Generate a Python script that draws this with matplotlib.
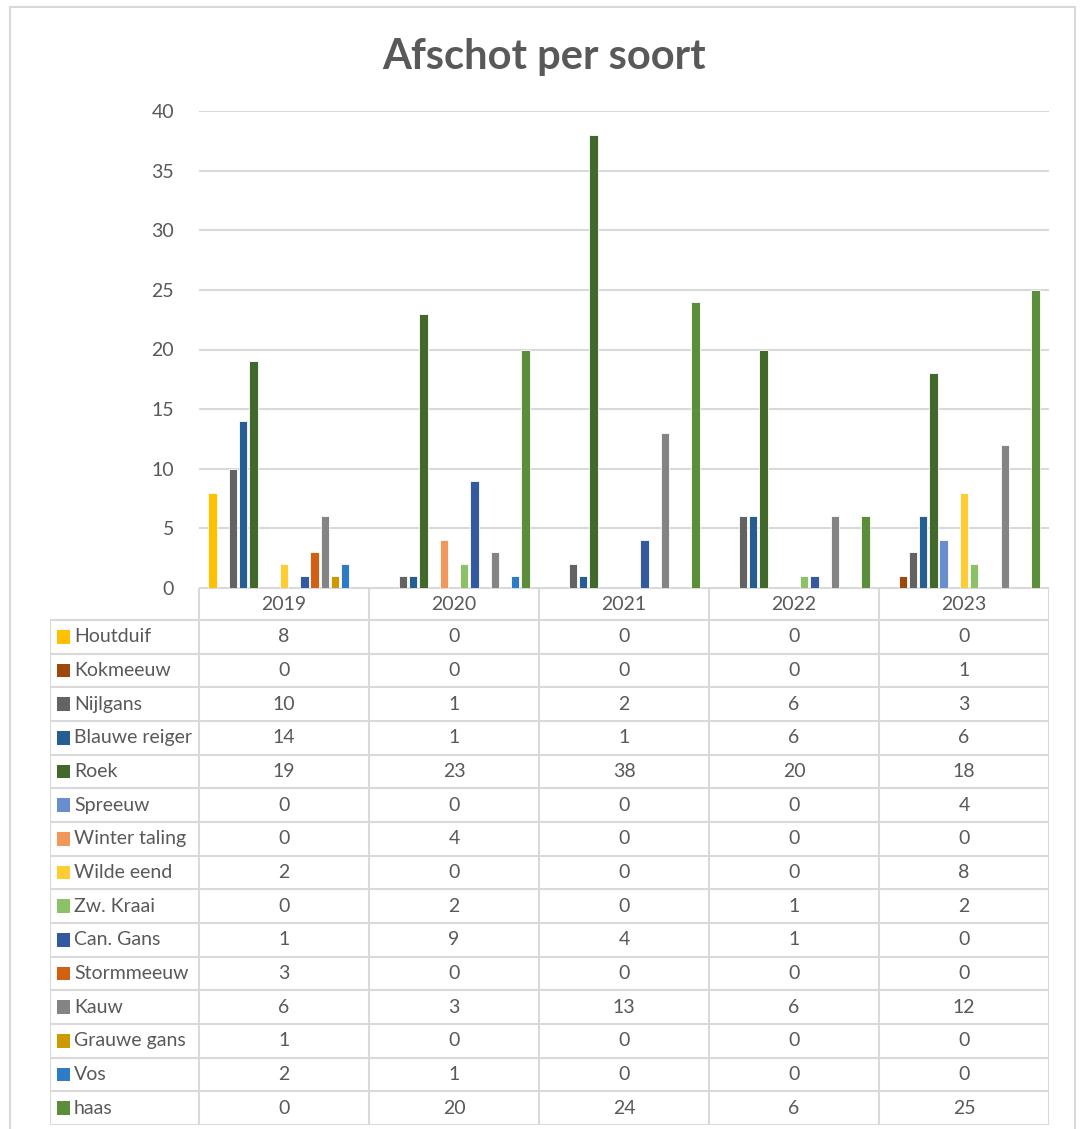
import numpy as np
import matplotlib.pyplot as plt
from matplotlib.patches import Rectangle

plt.rcParams['font.family'] = ['Lato', 'DejaVu Sans']

years = ['2019', '2020', '2021', '2022', '2023']
species = ['Houtduif', 'Kokmeeuw', 'Nijlgans', 'Blauwe reiger', 'Roek', 'Spreeuw',
           'Winter taling', 'Wilde eend', 'Zw. Kraai', 'Can. Gans', 'Stormmeeuw',
           'Kauw', 'Grauwe gans', 'Vos', 'haas']
houtduif = [8, 0, 0, 0, 0]
kokmeeuw = [0, 0, 0, 0, 1]
nijlgans = [10, 1, 2, 6, 3]
blauwe_reiger = [14, 1, 1, 6, 6]
roek = [19, 23, 38, 20, 18]
spreeuw = [0, 0, 0, 0, 4]
winter_taling = [0, 4, 0, 0, 0]
wilde_eend = [2, 0, 0, 0, 8]
zw_kraai = [0, 2, 0, 1, 2]
can_gans = [1, 9, 4, 1, 0]
stormmeeuw = [3, 0, 0, 0, 0]
kauw = [6, 3, 13, 6, 12]
grauwe_gans = [1, 0, 0, 0, 0]
vos = [2, 1, 0, 0, 0]
haas = [0, 20, 24, 6, 25]

values = [houtduif, kokmeeuw, nijlgans, blauwe_reiger, roek, spreeuw, winter_taling,
          wilde_eend, zw_kraai, can_gans, stormmeeuw, kauw, grauwe_gans, vos, haas]
colors = ['#FFC000', '#9E480E', '#636363', '#255E91', '#43682B', '#698ED0',
          '#F1975A', '#FFCD33', '#8CC168', '#335AA1', '#D26012', '#848484',
          '#CC9A00', '#2E7BC6', '#5B8E3B']

W, H = 1081, 1129
txt = '#595959'
grid = '#D9D9D9'

fig = plt.figure(figsize=(W / 100, H / 100), dpi=100)

# outer chart frame
fig.patches.append(Rectangle((10 / W, 1 - 1132 / H), 1065 / W, 1125 / H,
                             transform=fig.transFigure, fill=False,
                             edgecolor=grid, lw=1.5))

fig.text(0.503, 1 - 57 / H, 'Afschot per soort', ha='center', va='center',
         fontsize=30, fontweight='bold', color=txt)

# bar chart
ax = fig.add_axes([199 / W, 1 - 588 / H, 850 / W, 477 / H])
x = np.arange(len(years))
n = len(species)
slot = 0.9 / n
for i, (vals, c) in enumerate(zip(values, colors)):
    ax.bar(x + (i - (n - 1) / 2) * slot, vals, width=slot * 0.82, color=c,
           edgecolor='white', linewidth=0.6, zorder=3)
ax.set_xlim(-0.5, len(years) - 0.5)
ax.set_ylim(0, 40)
ax.set_yticks(range(0, 41, 5))
ax.yaxis.grid(True, color=grid, lw=1.5, zorder=0)
ax.set_xticks([])
ax.tick_params(axis='y', length=0, labelsize=14, labelcolor=txt, pad=18)
for s in ax.spines.values():
    s.set_visible(False)

# data table
left_ext = 149 / 170
tx = fig.add_axes([50 / W, 1 - 1125 / H, 999 / W, 537 / H])
hdr = 32 / ((1125 - 620) / 15)
tx.set_xlim(-0.5 - left_ext, len(years) - 0.5)
tx.set_ylim(n, -hdr)
tx.axis('off')
lk = dict(color=grid, lw=1.5)
for k in range(len(years) + 1):
    tx.plot([k - 0.5, k - 0.5], [-hdr, n], **lk)
tx.plot([-0.5 - left_ext] * 2, [0, n], **lk)
tx.plot([-0.5, len(years) - 0.5], [-hdr, -hdr], **lk)
for r in range(n + 1):
    tx.plot([-0.5 - left_ext, len(years) - 0.5], [r, r], **lk)
for j, yr in enumerate(years):
    tx.text(j, -hdr / 2, yr, ha='center', va='center', fontsize=14, color=txt)
sq = 13 / 170
for i, (name, vals, c) in enumerate(zip(species, values, colors)):
    tx.add_patch(Rectangle((-0.5 - left_ext + 7 / 170, i + 0.5 - 0.2), sq, 0.4,
                           color=c, lw=0))
    tx.text(-0.5 - left_ext + 24 / 170, i + 0.5, name, ha='left', va='center',
            fontsize=14, color=txt)
    for j, v in enumerate(vals):
        tx.text(j, i + 0.5, str(v), ha='center', va='center', fontsize=14, color=txt)

fig.savefig('out.png', dpi=100, facecolor='white')
